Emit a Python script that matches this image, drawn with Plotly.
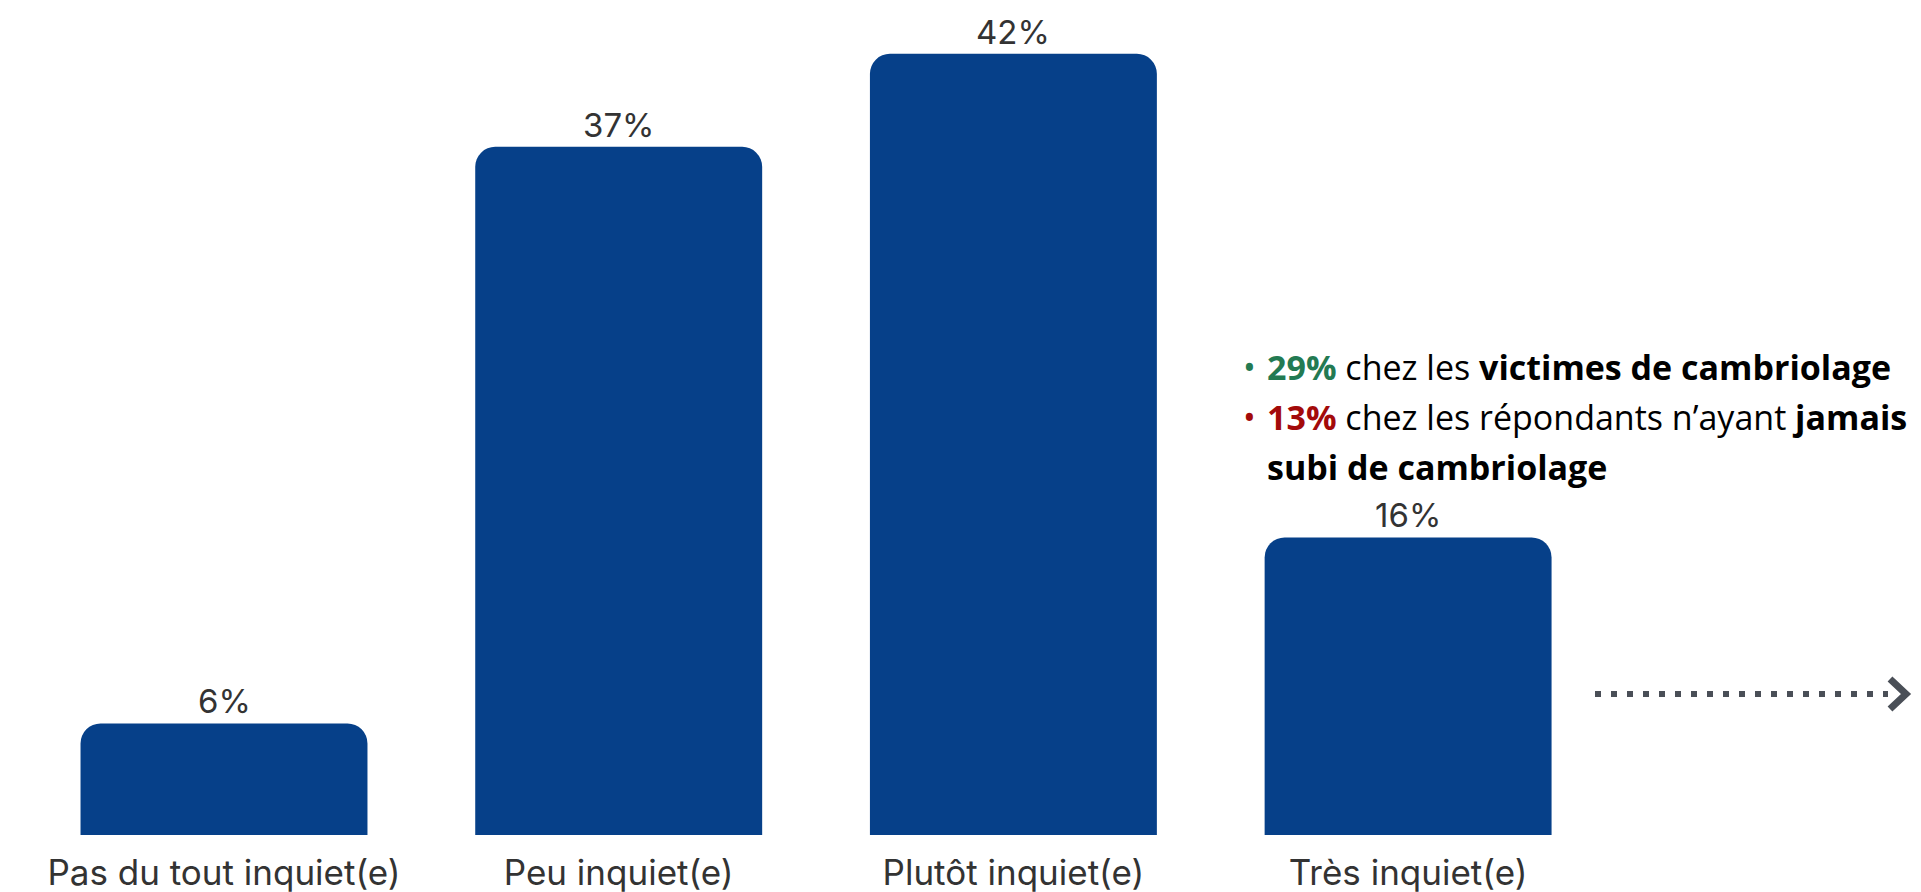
import plotly.graph_objects as go

# data
categories = ["Pas du tout inquiet(e)", "Peu inquiet(e)", "Plutôt inquiet(e)", "Très inquiet(e)"]
values = [6, 37, 42, 16]
value_labels = ["6%", "37%", "42%", "16%"]

# side note (bullet colour, highlighted figure, rest of the line as html)
note_colors = ["#237a52", "#a30a0a"]
note_figures = ["29%", "13%"]
note_texts = [
    " chez les <b>victimes de cambriolage</b>",
    " chez les répondants n’ayant <b>jamais</b>",
]
note_extra = "<b>subi de cambriolage</b>"

# the page body has an 8px margin, so the figure is drawn 8px in from the corner
OFF = 8
W, H = 1921 - OFF, 892 - OFF
PLOT_BOTTOM = 835 - OFF   # pixel row of the x axis inside the figure
STEP = 394.7              # px between category centres
FIRST = 224 - OFF         # px of first category centre
PX_PER_UNIT = 18.6


def px(x):
    # screen pixel -> paper x
    return (x - OFF) / W


def py(y):
    # screen pixel -> paper y
    return 1 - (y - OFF) / PLOT_BOTTOM


fig = go.Figure()

fig.add_trace(go.Bar(
    x=categories, y=values,
    marker=dict(color="#064089", cornerradius=20, line_width=0),
    hoverinfo="skip",
))

# value labels above bars
for c, v, t in zip(categories, values, value_labels):
    fig.add_annotation(x=c, y=v, text=t, showarrow=False,
                       yanchor="bottom", yshift=0,
                       font=dict(family="Inter", size=33, color="#333333"))

# bullet notes
line_y = [367, 417]
for i in range(2):
    fig.add_annotation(xref="paper", yref="paper", x=px(1241), y=py(line_y[i]),
                       xanchor="left", yanchor="middle", showarrow=False,
                       text="•", font=dict(family="Open Sans", size=34, color=note_colors[i]))
    fig.add_annotation(xref="paper", yref="paper", x=px(1265), y=py(line_y[i]),
                       xanchor="left", yanchor="middle", showarrow=False,
                       text=f"<b><span style='color:{note_colors[i]}'>{note_figures[i]}</span></b>{note_texts[i]}",
                       font=dict(family="Open Sans", size=34, color="#000000"))
fig.add_annotation(xref="paper", yref="paper", x=px(1265), y=py(467),
                   xanchor="left", yanchor="middle", showarrow=False,
                   text=note_extra, font=dict(family="Open Sans", size=34, color="#000000"))

# dotted arrow
arrow_col = "#4a4f57"
fig.add_shape(type="line", xref="paper", yref="paper",
              x0=px(1595), x1=px(1888), y0=py(694), y1=py(694),
              line=dict(color=arrow_col, width=6, dash="6px,10px"))
fig.add_shape(type="path", xref="paper", yref="paper",
              path=f"M {px(1890)} {py(679)} L {px(1906)} {py(694)} L {px(1890)} {py(709)}",
              line=dict(color=arrow_col, width=7))

fig.update_layout(
    width=W, height=H,
    margin=dict(l=0, r=0, t=0, b=H - PLOT_BOTTOM),
    paper_bgcolor="white", plot_bgcolor="white",
    bargap=0.273,
    showlegend=False,
)
fig.update_xaxes(range=[-FIRST / STEP, (W - FIRST) / STEP], showgrid=False, zeroline=False,
                 showline=False, ticks="outside", ticklen=7, tickcolor="rgba(0,0,0,0)",
                 tickfont=dict(family="Inter", size=35, color="#333333"), automargin=False)
fig.update_yaxes(range=[0, PLOT_BOTTOM / PX_PER_UNIT], visible=False, showgrid=False, zeroline=False)

fig.write_html("out.html")
